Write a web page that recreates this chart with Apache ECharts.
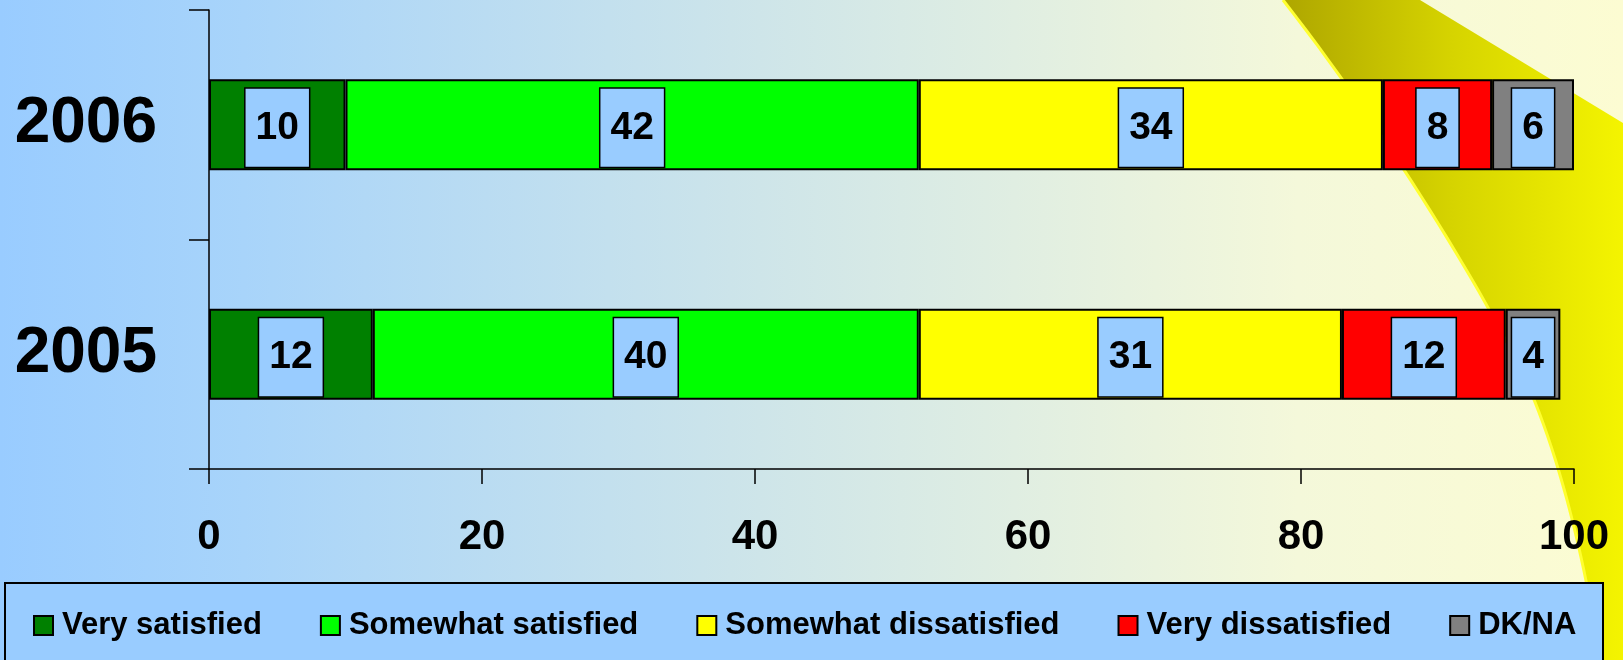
<!DOCTYPE html>
<html>
<head>
<meta charset="utf-8">
<script src="https://cdn.jsdelivr.net/npm/echarts@6/dist/echarts.min.js"></script>
<style>
  html, body { margin: 0; padding: 0; }
  #chart {
    width: 1623px;
    height: 660px;
    background: linear-gradient(to right, #99ccff 0%, #a8d4fa 15%, #cce4ea 45%, #f4f8da 80%, #fcfcd2 100%);
  }
</style>
</head>
<body>
<div id="chart"></div>
<script>
// data
var years = ['2005', '2006']
var seriesNames = ['Very satisfied', 'Somewhat satisfied', 'Somewhat dissatisfied', 'Very dissatisfied', 'DK/NA']
var verySatisfied = [12, 10]
var somewhatSatisfied = [40, 42]
var somewhatDissatisfied = [31, 34]
var veryDissatisfied = [12, 8]
var dkna = [4, 6]
var xTicks = [0, 20, 40, 60, 80, 100]

var colors = ['#008000', '#00ff00', '#ffff00', '#ff0000', '#808080']
var values = [verySatisfied, somewhatSatisfied, somewhatDissatisfied, veryDissatisfied, dkna]

var myChart = echarts.init(document.getElementById('chart'))
var font = 'Arial, "Liberation Sans", sans-serif'

// sample a cubic bezier for the decorative swoosh edge
function cubic(p0, p1, p2, p3, n) {
  var pts = []
  for (var k = 0; k <= n; k++) {
    var t = k / n, u = 1 - t
    pts.push([
      u * u * u * p0[0] + 3 * u * u * t * p1[0] + 3 * u * t * t * p2[0] + t * t * t * p3[0],
      u * u * u * p0[1] + 3 * u * u * t * p1[1] + 3 * u * t * t * p2[1] + t * t * t * p3[1]
    ])
  }
  return pts
}
var edge = cubic([1600, 660], [1585, 560], [1560, 460], [1530, 390], 20)
  .concat(cubic([1530, 390], [1500, 320], [1400, 150], [1283, 0], 30).slice(1))
var swoosh = [[1420, 0], [1623, 123], [1623, 660]].concat(edge)

var series = seriesNames.map(function (name, i) {
  return {
    name: name,
    type: 'bar',
    stack: 'total',
    data: values[i],
    barWidth: 91,
    itemStyle: {
      color: colors[i],
      borderColor: '#000',
      borderWidth: 2
    },
    label: {
      show: true,
      position: 'inside',
      offset: [0, 3],
      color: '#000',
      fontSize: 39,
      fontWeight: 'bold',
      fontFamily: font,
      lineHeight: 39,
      backgroundColor: '#99ccff',
      borderColor: '#000',
      borderWidth: 1.5,
      padding: [20, 10, 19, 10]
    }
  }
})

var option = {
  animation: false,
  backgroundColor: 'transparent',
  grid: {
    left: 209,
    right: 49,
    top: 10,
    bottom: 191,
    containLabel: false
  },
  graphic: [
    // yellow swoosh in the top right corner
    {
      type: 'polygon',
      z: -10,
      shape: { points: swoosh },
      style: {
        fill: new echarts.graphic.LinearGradient(0, 0, 1, 0, [
          { offset: 0, color: '#aea600' },
          { offset: 0.5, color: '#d6d400' },
          { offset: 1, color: '#f4f400' }
        ])
      }
    },
    {
      type: 'polyline',
      z: -9,
      shape: { points: edge },
      style: { fill: null, stroke: '#ffff30', lineWidth: 3 }
    },
    // legend box
    {
      type: 'rect',
      z: 3,
      shape: { x: 5, y: 583, width: 1598, height: 82 },
      style: { fill: '#99ccff', stroke: '#000', lineWidth: 2 }
    }
  ],
  legend: {
    top: 610,
    left: 33,
    padding: 0,
    icon: 'rect',
    itemWidth: 19,
    itemHeight: 19,
    itemGap: 58,
    data: seriesNames,
    textStyle: {
      color: '#000',
      fontSize: 31,
      fontWeight: 'bold',
      fontFamily: font,
      padding: [0, 0, 0, 4]
    }
  },
  xAxis: {
    type: 'value',
    min: xTicks[0],
    max: xTicks[xTicks.length - 1],
    interval: xTicks[1] - xTicks[0],
    axisLine: { show: true, lineStyle: { color: '#000', width: 1.5 } },
    axisTick: { show: true, length: 15, lineStyle: { color: '#000', width: 1.5 } },
    splitLine: { show: false },
    axisLabel: {
      margin: 47,
      color: '#000',
      fontSize: 42,
      fontWeight: 'bold',
      fontFamily: font
    }
  },
  yAxis: {
    type: 'category',
    data: years,
    axisLine: { show: true, lineStyle: { color: '#000', width: 1.5 } },
    axisTick: { show: true, length: 20, lineStyle: { color: '#000', width: 1.5 } },
    axisLabel: {
      margin: 52,
      color: '#000',
      fontSize: 64,
      fontWeight: 'bold',
      fontFamily: font
    }
  },
  series: series
}

myChart.setOption(option)
</script>
</body>
</html>
